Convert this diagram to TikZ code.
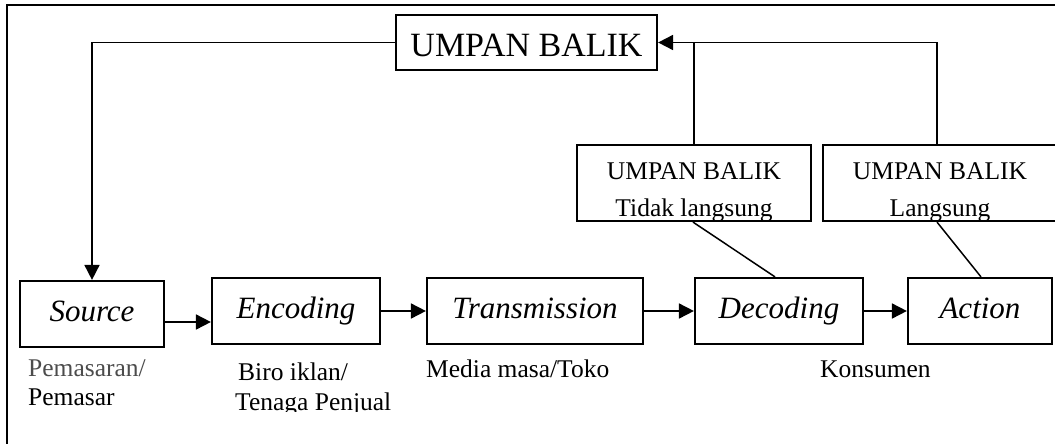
\documentclass[tikz,border=0pt]{standalone}
\usepackage{fontspec}
\setmainfont{Liberation Serif}
\usetikzlibrary{arrows.meta}
\begin{document}
\begin{tikzpicture}[x=1pt,y=-1pt,
 box/.style={draw, line width=2.2pt, inner sep=0pt},
 flowbox/.style={box, minimum height=66pt, font=\fontsize{31}{31}\selectfont\itshape, text height=22pt, text depth=7pt},
 flow/.style={line width=1.8pt, -{Triangle[length=15pt,width=15pt]}},
 link/.style={line width=1.5pt},
 lbl/.style={font=\fontsize{25.5}{25.5}\selectfont, anchor=base west, inner sep=0pt},
 fbtxt/.style={font=\fontsize{25.5}{25.5}\selectfont, anchor=base, inner sep=0pt}]
\useasboundingbox (0,0) rectangle (1055,444);
\draw[line width=2.2pt] (7,5) rectangle (1070,460);
% top feedback box
\node[box, minimum width=261pt, minimum height=55pt, font=\fontsize{34}{34}\selectfont, text height=29pt, text depth=0pt] (fb) at (526.5,42.5) {UMPAN BALIK};
% small feedback boxes
\node[box, minimum width=234pt, minimum height=76pt] (fbi) at (694,183) {};
\node[fbtxt] (fbi1) at (694,179.3) {UMPAN BALIK};
\node[fbtxt] (fbi2) at (694,216) {Tidak langsung};
\node[box, minimum width=234pt, minimum height=76pt] (fbd) at (940,183) {};
\node[fbtxt] (fbd1) at (940,179.3) {UMPAN BALIK};
\node[fbtxt] (fbd2) at (940,216) {Langsung};
% main flow boxes
\node[flowbox, minimum width=144pt] (src) at (92,314) {Source};
\node[flowbox, minimum width=168pt] (enc) at (296,311) {Encoding};
\node[flowbox, minimum width=216pt] (trn) at (535,311) {Transmission};
\node[flowbox, minimum width=168pt] (dec) at (779,311) {Decoding};
\node[flowbox, minimum width=144pt] (act) at (980,311) {Action};
% flow arrows
\draw[flow] ([yshift=-8pt]src.east) -- ([yshift=-8pt]src.east -| enc.west);
\draw[flow] (enc) -- (trn);
\draw[flow] (trn) -- (dec);
\draw[flow] (dec) -- (act);
% feedback connectors
\draw[flow] (fb.west) -| (src.north);
\coordinate (rtop) at ([xshift=-3pt]fbd.north);
\draw[flow] (rtop) |- (fb.east);
\draw[link] (fbi.north) -- (fbi.north |- fb.east);
\draw[link] ([xshift=-1pt]fbi.south) -- ([xshift=-4pt]dec.north);
\draw[link] ([xshift=-3pt]fbd.south) -- ([xshift=1pt]act.north);
% labels
\node[lbl, text=black!70] (l1) at (28,376) {Pemasaran/};
\node[lbl] (l2) at (28,405) {Pemasar};
\node[lbl] (l3) at (238,380) {Biro iklan/};
\begin{scope}
\clip (200,385) rectangle (420,411.5);
\node[lbl] (l4) at (235,410) {Tenaga Penjual};
\end{scope}
\node[lbl] (l5) at (426,377) {Media masa/Toko};
\node[lbl] (l6) at (820,377) {Konsumen};
\end{tikzpicture}
\end{document}
